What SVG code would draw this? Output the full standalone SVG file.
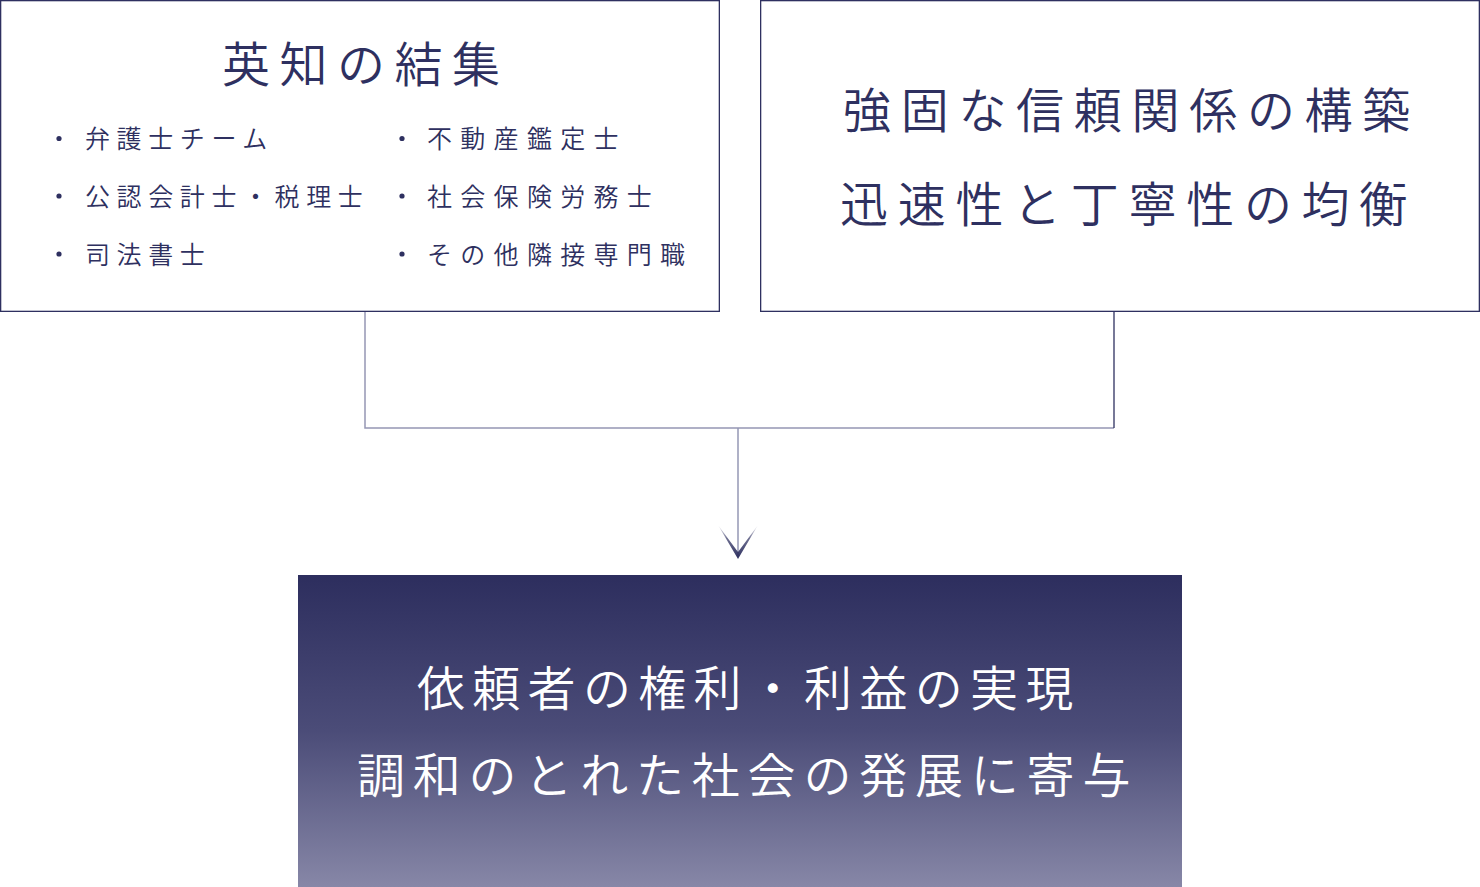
<svg xmlns="http://www.w3.org/2000/svg" width="1480" height="887" viewBox="0 0 1480 887">
  <style>
    .box { fill: #ffffff; stroke: #2e3060; stroke-width: 1.3; }
    .t { font-family: "Noto Sans CJK JP", "Noto Sans", sans-serif; font-weight: 350; fill: #2e3060; }
    .title { font-size: 48px; letter-spacing: 9.5px; }
    .item { font-size: 25px; letter-spacing: 6.6px; }
    .item2 { font-size: 25px; letter-spacing: 8.3px; }
    .big { font-size: 48px; letter-spacing: 9.7px; }
    .white { fill: #ffffff; font-size: 48px; }
    .dot { fill: #2e3060; }
    .conn { fill: none; stroke: #9597b4; stroke-width: 1.5; }
    .connDark { fill: none; stroke: #2e3060; stroke-width: 1.3; }
  </style>
  <defs>
    <linearGradient id="bg" x1="0" y1="0" x2="0" y2="1">
      <stop offset="0" stop-color="#2d2e5e"/>
      <stop offset="0.5" stop-color="#4b4c78"/>
      <stop offset="1" stop-color="#8787a7"/>
    </linearGradient>
    <linearGradient id="ag" x1="0" y1="0" x2="0" y2="1">
      <stop offset="0" stop-color="#2e3060" stop-opacity="0"/>
      <stop offset="0.4" stop-color="#2e3060" stop-opacity="0.7"/>
      <stop offset="1" stop-color="#2e3060"/>
    </linearGradient>
  </defs>

  <g id="connectors">
    <polyline class="conn" points="365,311 365,428 1114,428"/>
    <line class="connDark" x1="1114" y1="311" x2="1114" y2="428"/>
    <line class="conn" x1="738" y1="428" x2="738" y2="557"/>
    <path d="M718,525 L738,552 L758,525 L738,559 Z" fill="url(#ag)" stroke="none"/>
  </g>

  <g id="node-eichi">
    <rect class="box" x="0.65" y="0.65" width="718.7" height="310.7"/>
    <text class="t title" x="222" y="82">英知の結集</text>
    <circle class="dot" cx="59" cy="138.5" r="2.6"/>
    <circle class="dot" cx="59" cy="196" r="2.6"/>
    <circle class="dot" cx="59" cy="254" r="2.6"/>
    <circle class="dot" cx="402" cy="138.5" r="2.6"/>
    <circle class="dot" cx="402" cy="196" r="2.6"/>
    <circle class="dot" cx="402" cy="254" r="2.6"/>
    <text class="t item" x="85" y="148">弁護士チーム</text>
    <text class="t item" x="85" y="205.5">公認会計士・税理士</text>
    <text class="t item" x="85" y="263.5">司法書士</text>
    <text class="t item2" x="427" y="148">不動産鑑定士</text>
    <text class="t item2" x="427" y="205.5">社会保険労務士</text>
    <text class="t item2" x="427" y="263.5">その他隣接専門職</text>
  </g>

  <g id="node-shinrai">
    <rect class="box" x="760.65" y="0.65" width="718.7" height="310.7"/>
    <text class="t big" x="843" y="128">強固な信頼関係の構築</text>
    <text class="t big" x="840" y="222">迅速性と丁寧性の均衡</text>
  </g>

  <g id="node-goal">
    <rect x="298" y="575" width="884" height="312" fill="url(#bg)"/>
    <text class="t white" x="417" y="706" letter-spacing="7.3">依頼者の権利・利益の実現</text>
    <text class="t white" x="357" y="793" letter-spacing="7.8">調和のとれた社会の発展に寄与</text>
  </g>
</svg>
